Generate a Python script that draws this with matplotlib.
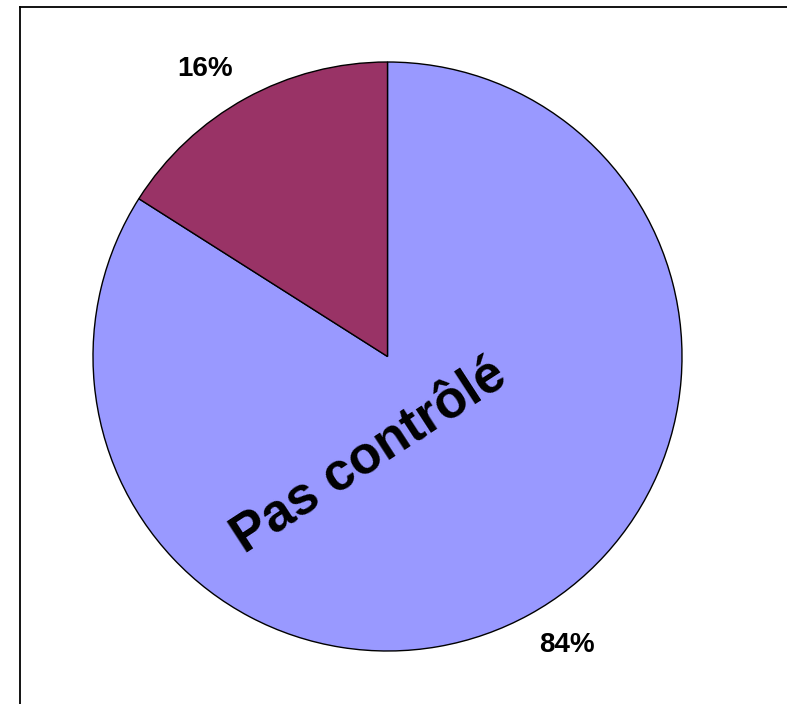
import matplotlib
matplotlib.use("Agg")
from matplotlib import pyplot as plt
from matplotlib.lines import Line2D

plt.rcParams['font.family'] = ['Liberation Sans', 'DejaVu Sans']

# donnees
categories = ["Pas contrôlé", "Contrôlé"]
valeurs = [84, 16]
couleurs = ["#9999FF", "#993366"]

W, H = 787, 704
fig = plt.figure(figsize=(W / 100, H / 100), dpi=100)

# cadre (seulement haut et gauche visibles)
fig.add_artist(Line2D([20 / W, 20 / W], [0, 1 - 6.5 / H], color="black", lw=1.3,
                      transform=fig.transFigure))
fig.add_artist(Line2D([20 / W, 1], [1 - 6.5 / H, 1 - 6.5 / H], color="black", lw=1.3,
                      transform=fig.transFigure))

cx, cy, r = 387.5, 356.5, 294.5
ax = fig.add_axes([(cx - r) / W, (H - cy - r) / H, 2 * r / W, 2 * r / H])
ax.pie(valeurs, colors=couleurs, startangle=90, counterclock=False, radius=1,
       wedgeprops=dict(edgecolor="black", linewidth=1.0))
ax.set_xlim(-1, 1)
ax.set_ylim(-1, 1)
ax.set_aspect("equal")
ax.axis("off")


def px(x, y):
    return (x - cx) / r, (cy - y) / r


# etiquettes de pourcentage
pos_pct = [(567, 645), (205, 69)]
for v, (x, y) in zip(valeurs, pos_pct):
    ax.text(*px(x, y), f"{v}%", ha="center", va="center", fontsize=20,
            fontweight="bold", clip_on=False)

# nom de la categorie principale
ax.text(*px(370, 457), categories[0], ha="center", va="center", fontsize=38,
        fontweight="bold", rotation=33, rotation_mode="anchor")

fig.savefig("out.png", dpi=100)
